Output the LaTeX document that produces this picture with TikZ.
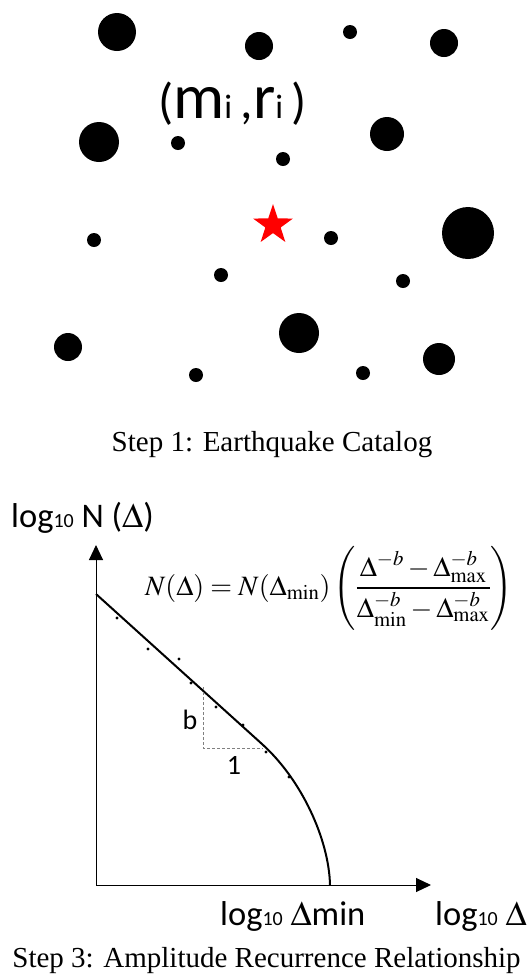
\documentclass[tikz,border=0pt]{standalone}
\usepackage{mathptmx}
\usepackage{fontspec}
\setmainfont{Liberation Serif}
\newfontfamily\carl{Carlito}
\usetikzlibrary{shapes.geometric,arrows.meta}
\tikzset{
  quake/.style={fill=black},
  smalldot/.style={fill=black},
  axisline/.style={line width=1pt,-{Triangle[width=14pt,length=15pt]}},
  fitcurve/.style={line width=2pt},
  slope/.style={gray,densely dashed,line width=0.7pt},
  caption/.style={font=\fontsize{29}{33}\selectfont,inner sep=0pt,anchor=base},
  sanslabel/.style={font=\carl\fontsize{34.5}{40}\selectfont,inner sep=0pt,anchor=base west},
}
\newcommand{\smallsub}[1]{{\fontsize{20}{20}\selectfont #1}}
\begin{document}
\begin{tikzpicture}[x=1pt,y=-1pt]
\useasboundingbox (0,0) rectangle (529,978);
% Step 1: catalog
\foreach \x/\y/\r in {117/32/19, 259/46/14, 350/32/7, 444/43/14, 99/142/20, 178/143/7,
  283/159/7, 387/134/17, 94/240/7, 331/238/7, 468/233/26, 221/275/7, 403/281/7,
  68/347/14, 299/333/20, 439/359/16, 196/375/7, 363/373/7}
  \fill[quake] (\x,\y) circle (\r);
\node[star,star points=5,star point ratio=2.6,minimum size=42pt,inner sep=0pt,fill=red,draw=none] (epi) at (273,225) {};
\node[anchor=base west,inner sep=0pt,font=\carl] (mr) at (158,118)
  {{\fontsize{50}{52}\selectfont(}{\fontsize{64}{70}\selectfont m}{\fontsize{34}{34}\selectfont i}{\fontsize{50}{52}\selectfont\,,}{\fontsize{64}{70}\selectfont r}{\fontsize{34}{34}\selectfont i}{\fontsize{50}{52}\selectfont\,)}};
\node[caption] (cap1) at (272,451) {Step 1: Earthquake Catalog};
% Step 3: recurrence
\coordinate (O) at (96,885);
\coordinate (ytip) at (96,545);
\coordinate (xtip) at (431,885);
\draw[axisline] (O) -- (ytip);
\draw[axisline] (O) -- (xtip);
\coordinate (c0) at (96,594);
\coordinate (c1) at (262,744);
\coordinate (c2) at (330,885);
\draw[fitcurve] (c0) -- (c1) .. controls (302,780) and (329,840) .. (c2);
\foreach \x/\y in {117/618, 148/649, 179/659, 191/683, 216/707, 243/725, 266/752, 289/777}
  \fill[smalldot] (\x,\y) circle (1.6);
\coordinate (t1) at (203,687);
\coordinate (t2) at (203,748);
\coordinate (t3) at (263,748);
\draw[slope] (t1) -- (t2) -- (t3);
\node[font=\carl\fontsize{28}{30}\selectfont,inner sep=0pt] (b) at (190,720) {b};
\node[font=\carl\fontsize{28}{30}\selectfont,inner sep=0pt] (one) at (234,765) {1};
\node[sanslabel] (ylab) at (11,527) {log\smallsub{10} N ($\Delta$)};
\node[sanslabel] (xlab1) at (220,925) {log\smallsub{10} $\Delta$min};
\node[sanslabel] (xlab2) at (435,925) {log\smallsub{10} $\Delta$};
\node[inner sep=0pt,font=\fontsize{28}{32}\selectfont] (eq) at (329,588)
  {$\displaystyle N(\Delta)=N(\Delta_{\min})\left(\frac{\Delta^{-b}-\Delta^{-b}_{\max}}{\Delta^{-b}_{\min}-\Delta^{-b}_{\max}}\right)$};
\node[caption] (cap3) at (266.5,967) {Step 3: Amplitude Recurrence Relationship};
\end{tikzpicture}
\end{document}
